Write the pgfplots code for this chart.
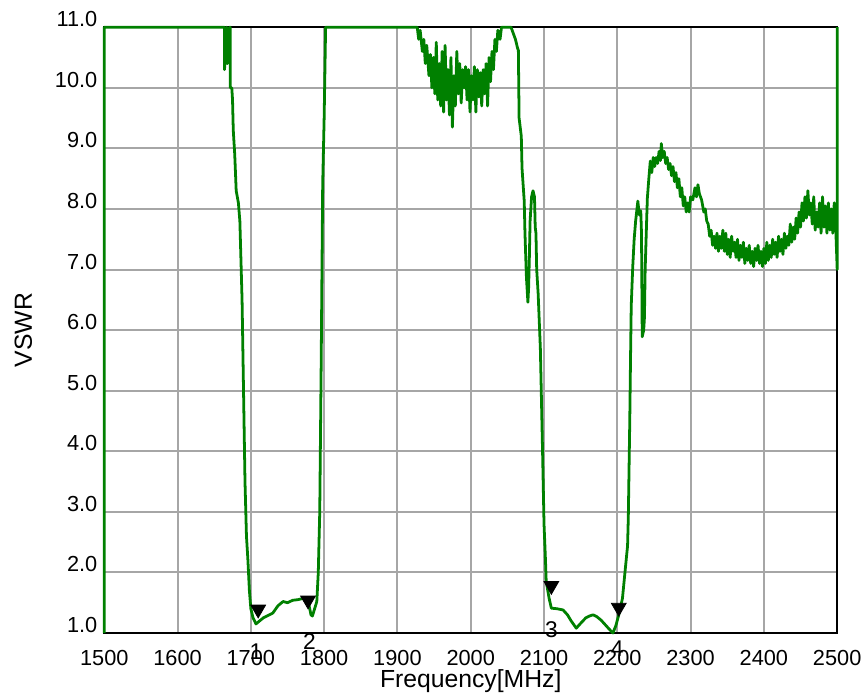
\documentclass[border=0pt]{standalone}
\usepackage{fontspec}
\setmainfont{Liberation Sans}
\usepackage{pgfplots}
\pgfplotsset{compat=1.18}
\definecolor{trace}{RGB}{0,128,0}
\begin{document}
\begin{tikzpicture}
\begin{axis}[
  scale only axis,
  width=369bp, height=305bp,
  xmin=1500, xmax=2500, ymin=1, ymax=11,
  xtick={1500,1600,...,2500},
  ytick={1,2,...,11},
  clip=false,
  axis line style={black, line width=0.8bp},
  grid=major,
  major grid style={gray!70, line width=1bp},
  major tick length=0pt,
  tick label style={font=\fontsize{11}{13}\selectfont},
  /pgf/number format/assume math mode=true,
  /pgf/number format/set thousands separator={},
  yticklabel style={/pgf/number format/fixed, /pgf/number format/fixed zerofill, /pgf/number format/precision=1, yshift=4bp},
  xticklabel style={yshift=-5bp},
  xlabel={Frequency[MHz]},
  ylabel={VSWR},
  label style={font=\fontsize{12.5}{15}\selectfont},
  xlabel style={at={(axis description cs:0.5,-0.0902)}, anchor=base},
  ylabel style={at={(axis description cs:-0.0989,0.5)}, anchor=base},
]
\addplot[trace, line width=1.4bp, line join=round] coordinates {
(1500,1.0)(1500,11.0)(1664,11.0)(1664,10.3)(1666,10.6)(1667,11)(1668,10.4)(1669,10.9)(1670,10.5)(1671,11)(1672,11)
(1672,10.0)(1674,10.0)(1675,9.8)(1676,9.3)(1678,8.9)(1680,8.3)(1683,8.1)(1685,7.8)(1688,6.5)
(1690,5.0)(1692,3.5)(1694,2.6)(1696,2.2)(1698,1.7)(1700,1.4)(1703,1.25)(1707,1.15)(1712,1.2)
(1717,1.25)(1722,1.28)(1730,1.33)(1737,1.45)(1744,1.52)(1750,1.5)(1757,1.54)(1764,1.55)
(1771,1.57)(1776,1.55)(1779,1.48)(1782,1.3)(1784,1.28)(1786,1.36)(1790,1.52)(1792,2.0)
(1794,3.0)(1796,5.5)(1798,8.4)(1800,9.5)(1802,11.0)(1927,11.0)
(1929,10.8)(1931,10.95)(1934,10.6)(1936,10.8)(1938,10.4)(1940,10.7)(1943,10.2)(1945,10.55)
(1947,10.0)(1949,10.5)(1951,9.9)(1953,10.75)(1955,9.8)(1957,10.4)(1959,9.7)(1961,10.6)
(1963,9.6)(1965,10.7)(1967,9.8)(1969,10.3)(1971,9.55)(1973,10.5)(1975,9.35)(1977,10.2)
(1979,9.7)(1981,10.6)(1983,9.9)(1985,10.4)(1987,9.75)(1989,10.3)(1991,10.0)(1993,10.35)
(1995,9.8)(1997,10.3)(1999,9.6)(2001,10.2)(2003,9.8)(2005,10.35)(2007,9.6)(2009,10.3)
(2011,9.85)(2013,10.25)(2015,9.7)(2017,10.3)(2019,9.9)(2021,10.4)(2023,9.7)(2025,10.5)
(2027,10.1)(2029,10.6)(2031,10.3)(2033,10.8)(2035,10.6)(2037,10.95)(2040,10.8)(2042,11.0)
(2055,11.0)(2058,10.9)(2061,10.8)(2064,10.65)(2065,10.62)(2066,9.5)(2069,9.2)(2070,8.67)
(2073,8.13)(2074,7.6)(2076,6.87)(2078,6.46)(2079,6.7)(2080,7.2)(2081,7.8)(2083,8.2)(2085,8.3)
(2087,8.2)(2088,7.7)(2089,7.6)(2090,7.0)(2092,6.6)(2095,5.7)(2098,4.0)(2100,2.8)(2102,2.2)
(2103,1.85)(2107,1.57)(2110,1.41)(2118,1.4)(2126,1.38)(2132,1.3)(2137,1.2)(2144,1.08)
(2150,1.16)(2157,1.25)(2162,1.28)(2167,1.3)(2172,1.27)(2178,1.21)(2184,1.13)(2190,1.05)
(2194,1.0)(2198,1.12)(2202,1.3)(2207,1.57)(2211,2.07)(2214,2.44)(2215,2.9)(2217,4.5)
(2218,5.5)(2219,6.4)(2221,7.03)(2223,7.5)(2225,7.8)(2228,8.13)(2230,7.9)(2232,7.97)
(2233,7.6)(2234,5.89)(2236,6.0)(2237,6.2)(2238,7.0)(2240,7.8)(2241,8.18)(2243,8.5)
(2245,8.79)(2247,8.6)(2249,8.85)(2251,8.7)(2253,8.85)(2255,8.75)(2257,8.95)(2259,8.8)
(2260,9.08)(2262,8.85)(2264,8.95)(2266,8.75)(2268,8.85)(2270,8.65)(2272,8.75)(2274,8.55)
(2276,8.7)(2278,8.45)(2280,8.6)(2282,8.35)(2284,8.5)(2286,8.2)(2288,8.35)(2290,8.05)
(2292,8.2)(2294,7.95)(2296,8.1)(2298,7.95)(2300,8.2)(2303,8.15)(2306,8.35)(2308,8.2)
(2310,8.4)(2312,8.25)(2315,8.15)(2318,7.95)(2320,8.0)(2322,7.8)(2324,7.75)(2326,7.55)
(2328,7.65)(2330,7.4)(2332,7.55)(2334,7.35)(2336,7.6)(2338,7.3)(2340,7.55)(2342,7.35)
(2344,7.65)(2346,7.3)(2348,7.6)(2350,7.25)(2352,7.5)(2354,7.2)(2356,7.55)(2358,7.3)
(2360,7.45)(2362,7.2)(2364,7.5)(2366,7.15)(2368,7.4)(2370,7.2)(2372,7.45)(2374,7.1)
(2376,7.35)(2378,7.15)(2380,7.4)(2382,7.1)(2384,7.3)(2386,7.05)(2388,7.35)(2390,7.15)
(2392,7.4)(2394,7.1)(2396,7.3)(2398,7.05)(2400,7.35)(2402,7.1)(2404,7.45)(2406,7.15)
(2408,7.4)(2410,7.2)(2412,7.5)(2414,7.25)(2416,7.45)(2418,7.2)(2420,7.55)(2422,7.3)
(2424,7.5)(2426,7.25)(2428,7.6)(2430,7.35)(2432,7.55)(2434,7.4)(2436,7.75)(2438,7.45)
(2440,7.7)(2442,7.5)(2444,7.85)(2446,7.6)(2448,7.95)(2450,7.7)(2452,8.1)(2454,7.8)
(2456,8.2)(2458,7.85)(2460,8.3)(2462,7.9)(2464,8.1)(2466,7.75)(2468,8.2)(2470,7.65)
(2472,7.95)(2474,7.7)(2476,8.1)(2478,7.6)(2480,8.2)(2482,7.7)(2484,8.05)(2486,7.6)
(2488,8.1)(2490,7.65)(2492,8.0)(2494,7.6)(2496,8.1)(2498,7.7)(2500,7.0)(2500,11.0)
};
\addplot[only marks, mark=triangle*, mark size=4.3pt, mark options={rotate=180, fill=black, draw=black}]
  coordinates {(1710,1.39)(1778,1.54)(2110,1.78)(2202,1.42)};
\node[font=\fontsize{11.5}{13}\selectfont] at (axis cs:1707,0.70) {1};
\node[font=\fontsize{11.5}{13}\selectfont] at (axis cs:1780,0.86) {2};
\node[font=\fontsize{11.5}{13}\selectfont] at (axis cs:2110,1.06) {3};
\node[font=\fontsize{11.5}{13}\selectfont] at (axis cs:2200,0.74) {4};
\end{axis}
\pgfresetboundingbox
\path[use as bounding box] (-52.5bp,-33.7bp) rectangle (382bp,318.7bp);
\end{tikzpicture}
\end{document}
